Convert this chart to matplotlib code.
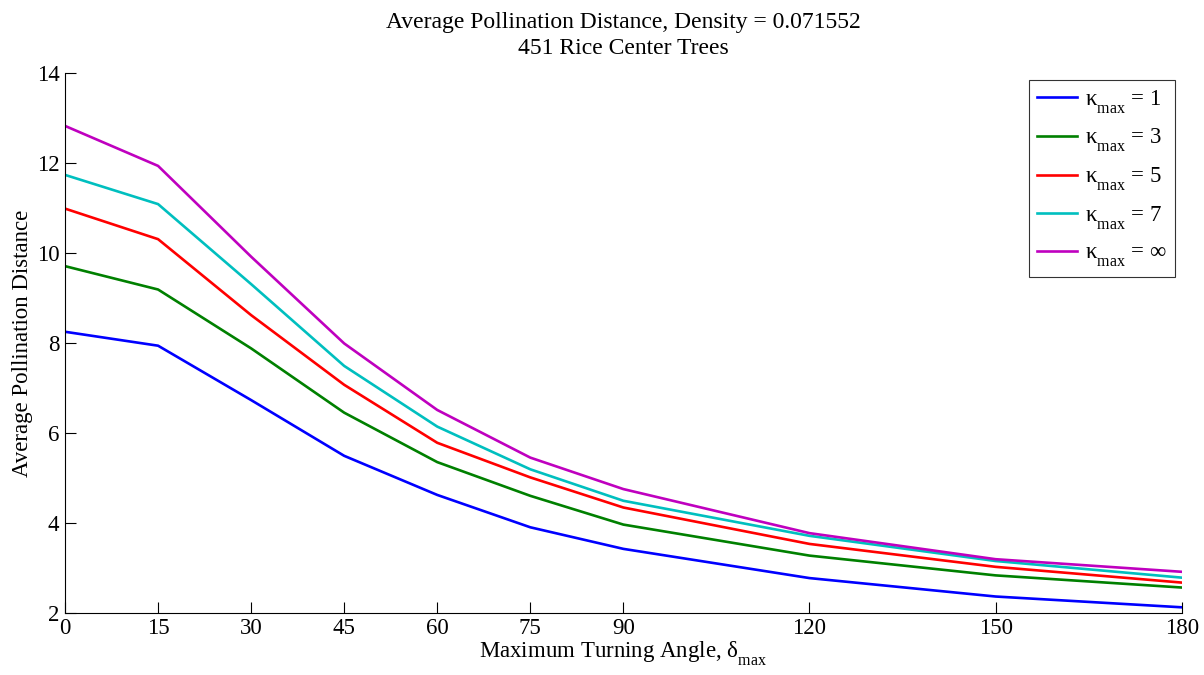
import numpy as np
import matplotlib.pyplot as plt

plt.rcParams['font.family'] = ['Liberation Serif', 'DejaVu Serif']
plt.rcParams['mathtext.fontset'] = 'custom'
plt.rcParams['mathtext.rm'] = 'Liberation Serif'
plt.rcParams['mathtext.it'] = 'Liberation Serif:italic'

# push subscripts lower, like the tex interpreter of the original
try:
    import matplotlib._mathtext as _mt
    _mt.FontConstantsBase.sub1 = 0.75
    _mt.FontConstantsBase.subdrop = 0.6
except Exception:
    pass

# max turning angle (degrees)
angles = [0, 15, 30, 45, 60, 75, 90, 120, 150, 180]

# average pollination distance for each kappa_max
k1 = [8.25, 7.94, 6.73, 5.49, 4.62, 3.90, 3.42, 2.77, 2.36, 2.12]
k3 = [9.71, 9.19, 7.88, 6.45, 5.35, 4.60, 3.96, 3.27, 2.83, 2.56]
k5 = [10.99, 10.31, 8.62, 7.07, 5.78, 5.01, 4.34, 3.53, 3.02, 2.67]
k7 = [11.74, 11.09, 9.31, 7.49, 6.14, 5.19, 4.49, 3.71, 3.15, 2.78]
kinf = [12.83, 11.94, 9.92, 7.99, 6.51, 5.45, 4.75, 3.77, 3.19, 2.91]

labels = ['1', '3', '5', '7', '∞']
colors = ['#0000ff', '#008000', '#ff0000', '#00bfbf', '#bf00bf']
series = [k1, k3, k5, k7, kinf]

fig = plt.figure(figsize=(12.04, 6.75), dpi=100)
ax = fig.add_axes([0.054, 0.0923, 0.9275, 0.7991])

for vals, lab, c in zip(series, labels, colors):
    ax.plot(angles, vals, color=c, lw=1.9, label='κ$_{\\mathrm{max}}$ = ' + lab)

ax.set_xlim(0, 180)
ax.set_ylim(2, 14)
ax.set_xticks(angles)
ax.set_yticks(np.arange(2, 15, 2))
ax.tick_params(direction='in', length=8, width=0.8, labelsize=16.5, pad=4)
for s in ['top', 'right']:
    ax.spines[s].set_visible(False)
for s in ['left', 'bottom']:
    ax.spines[s].set_linewidth(0.8)

ax.set_title('Average Pollination Distance, Density = 0.071552\n451 Rice Center Trees',
             fontsize=17, linespacing=1.3, pad=14)
ax.set_xlabel('Maximum Turning Angle, δ$_{\\mathrm{max}}$', fontsize=16.5, labelpad=0)
ax.set_ylabel('Average Pollination Distance', fontsize=16.5, labelpad=3)

leg = ax.legend(loc='upper right', bbox_to_anchor=(0.994, 0.987), fontsize=16.5,
                frameon=True, fancybox=False, edgecolor='black', handlelength=1.75,
                handletextpad=0.35, labelspacing=0.5, borderpad=0.35, borderaxespad=0)
leg.get_frame().set_linewidth(0.8)

fig.savefig('out.png', dpi=100)
